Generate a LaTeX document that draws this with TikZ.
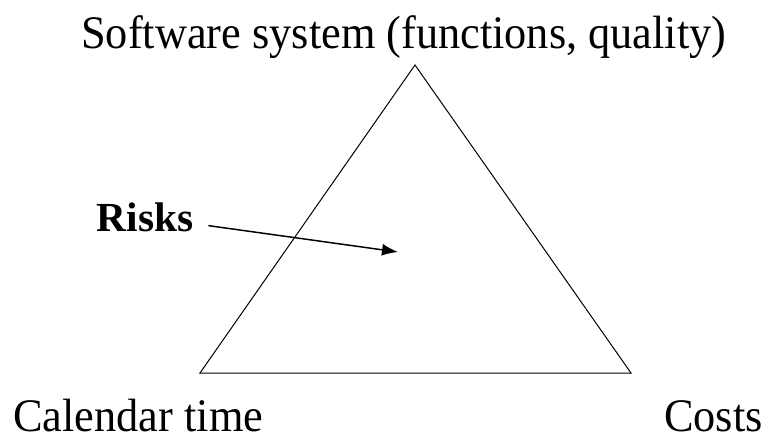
\documentclass[tikz,border=0pt]{standalone}
\usepackage{fontspec}
\setmainfont{Liberation Serif}
\usetikzlibrary{arrows.meta}

\begin{document}
\begin{tikzpicture}[x=0.75pt,y=-0.75pt,
  label/.style={font=\fontsize{35}{40}\selectfont, inner sep=0pt, xscale=0.95, transform shape},
  riskslabel/.style={font=\fontsize{31}{36}\selectfont\bfseries, inner xsep=11pt, inner ysep=0pt},
  pointer/.style={line width=1.1pt, -{Latex[length=12pt,width=9pt]}}]
\path[use as bounding box] (0,0) rectangle (769,437);
% corners of the triangle
\coordinate (top) at (415,65);
\coordinate (left) at (200,373);
\coordinate (right) at (631,373);
\draw[line width=0.75pt] (top) -- (left) -- (right) -- cycle;
\node[label, anchor=base west] (system) at (81,48) {Software system (functions, quality)};
\node[label, anchor=base west] (time) at (13,431) {Calendar time};
\node[label, anchor=base east] (costs) at (763,431) {Costs};
\node[riskslabel, anchor=base west] (risks) at (82,231) {Risks};
\coordinate (inside) at (398,252);
\draw[pointer] (risks) -- (inside);
\end{tikzpicture}
\end{document}
